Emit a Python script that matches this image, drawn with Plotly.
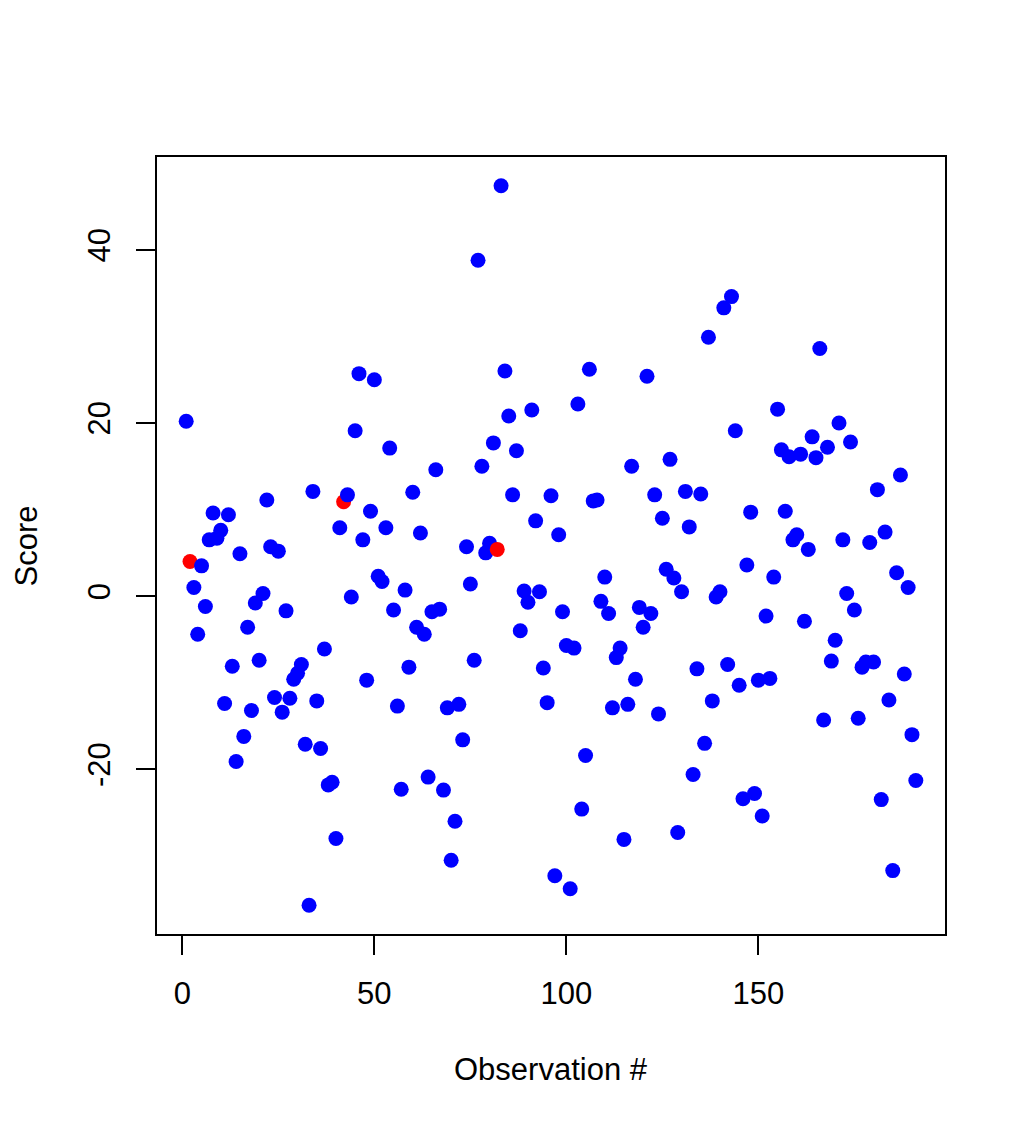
import plotly.graph_objects as go

obs = list(range(1, 192))
score = [
    20.2, 4.0, 1.0, -4.4, 3.5, -1.2, 6.5, 9.6, 6.7, 7.6,
    -12.4, 9.4, -8.1, -19.1, 4.9, -16.2, -3.6, -13.2, -0.8, -7.4,
    0.3, 11.1, 5.7, -11.7, 5.2, -13.4, -1.7, -11.8, -9.6, -8.9,
    -7.9, -17.1, -35.7, 12.1, -12.1, -17.6, -6.1, -21.8, -21.5, -28.0,
    7.9, 10.9, 11.7, -0.1, 19.1, 25.7, 6.5, -9.7, 9.8, 25.0,
    2.3, 1.7, 7.9, 17.1, -1.6, -12.7, -22.3, 0.7, -8.2, 12.0,
    -3.6, 7.3, -4.4, -20.9, -1.8, 14.6, -1.5, -22.4, -12.9, -30.5,
    -26.0, -12.5, -16.6, 5.7, 1.4, -7.4, 38.8, 15.0, 5.0, 6.1,
    17.7, 5.4, 47.4, 26.0, 20.8, 11.7, 16.8, -4.0, 0.6, -0.7,
    21.5, 8.7, 0.5, -8.3, -12.3, 11.6, -32.3, 7.1, -1.8, -5.7,
    -33.8, -6.0, 22.2, -24.6, -18.4, 26.2, 11.0, 11.1, -0.6, 2.2,
    -2.0, -12.9, -7.1, -6.0, -28.1, -12.5, 15.0, -9.6, -1.3, -3.6,
    25.4, -2.0, 11.7, -13.6, 9.0, 3.1, 15.8, 2.1, -27.3, 0.5,
    12.1, 8.0, -20.6, -8.4, 11.8, -17.0, 29.9, -12.1, -0.1, 0.5,
    33.3, -7.9, 34.6, 19.1, -10.3, -23.4, 3.6, 9.7, -22.8, -9.7,
    -25.4, -2.3, -9.5, 2.2, 21.6, 16.9, 9.8, 16.1, 6.5, 7.1,
    16.4, -2.9, 5.4, 18.4, 16.0, 28.6, -14.3, 17.2, -7.5, -5.1,
    20.0, 6.5, 0.3, 17.8, -1.6, -14.1, -8.2, -7.6, 6.2, -7.6,
    12.3, -23.5, 7.4, -12.0, -31.7, 2.7, 14.0, -9.0, 1.0, -16.0,
    -21.3,
]
highlight = [2, 42, 82]

x_ticks = [0, 50, 100, 150]
x_tick_labels = ["0", "50", "100", "150"]
y_ticks = [-20, 0, 20, 40]
y_tick_labels = ["-20", "0", "20", "40"]
x_title = "Observation #"
y_title = "Score"

colors = ["red" if o in highlight else "blue" for o in obs]

def pad(lo, hi):
    d = (hi - lo) * 0.04
    return [lo - d, hi + d]

FONT = "Liberation Sans, Arial, Helvetica, sans-serif"
FS = 31

fig = go.Figure()
fig.add_trace(go.Scatter(
    x=obs, y=score, mode="markers",
    marker=dict(color=colors, size=15, line=dict(width=0)),
    showlegend=False, hoverinfo="x+y",
))

axis_common = dict(
    showgrid=False, zeroline=False, showline=True, mirror=True,
    linecolor="black", linewidth=2, ticks="outside", ticklen=19,
    tickwidth=2, tickcolor="black",
    tickfont=dict(family=FONT, size=FS, color="black"),
)

fig.update_xaxes(range=pad(min(obs), max(obs)), tickvals=x_ticks,
                 ticktext=x_tick_labels, ticklabelstandoff=12, **axis_common)
fig.update_yaxes(range=pad(min(score), max(score)), tickvals=y_ticks,
                 ticktext=y_tick_labels, tickangle=-90, ticklabelstandoff=14,
                 **axis_common)

fig.update_layout(
    width=1026, height=1130,
    margin=dict(l=149, r=89, t=149, b=204),
    plot_bgcolor="white", paper_bgcolor="white",
    font=dict(family=FONT, size=FS, color="black"),
    annotations=[
        dict(text=x_title, xref="paper", yref="paper", x=0.5, y=-0.174,
             showarrow=False, xanchor="center", yanchor="middle",
             borderpad=0, font=dict(family=FONT, size=FS, color="black")),
        dict(text=y_title, xref="paper", yref="paper", x=-0.165, y=0.5,
             showarrow=False, xanchor="center", yanchor="middle",
             borderpad=0, textangle=-90,
             font=dict(family=FONT, size=FS, color="black")),
    ],
)

fig.write_html("out.html")
